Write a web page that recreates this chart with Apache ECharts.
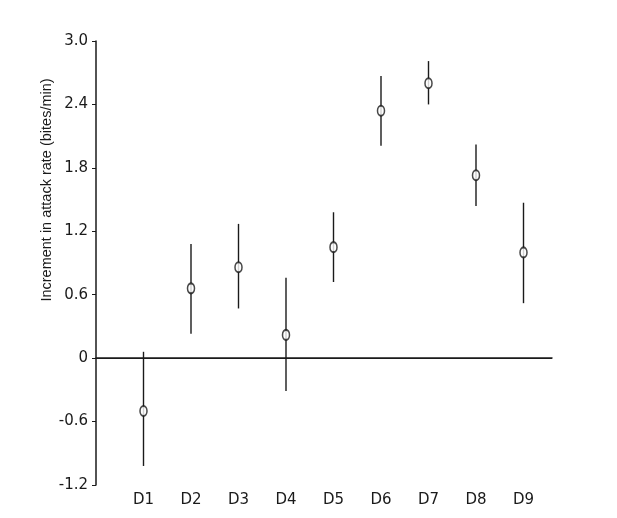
<!DOCTYPE html>
<html>
<head>
<meta charset="utf-8">
<script src="https://cdn.jsdelivr.net/npm/echarts@6/dist/echarts.min.js"></script>
<style>html,body{margin:0;padding:0;background:#fff}#c{width:617px;height:518px}</style>
</head>
<body>
<div id="c"></div>
<script>
var categories = ['D1','D2','D3','D4','D5','D6','D7','D8','D9'];
var means = [-0.50, 0.66, 0.86, 0.22, 1.05, 2.34, 2.60, 1.73, 1.00];
var upper = [0.06, 1.08, 1.27, 0.76, 1.38, 2.67, 2.81, 2.02, 1.47];
var lower = [-1.02, 0.23, 0.47, -0.31, 0.72, 2.01, 2.40, 1.44, 0.52];
var yTicks = [-1.2, -0.6, 0, 0.6, 1.2, 1.8, 2.4, 3.0];
var yTitle = 'Increment in attack rate (bites/min)';

var font = 'DejaVu Sans';
var ink = '#1a1a1a';

var pointData = means.map(function(v, i){ return [i + 1, v]; });
var barData = means.map(function(v, i){ return [i + 1, lower[i], upper[i]]; });

var chart = echarts.init(document.getElementById('c'), null, {renderer: 'canvas'});
chart.setOption({
  animation: false,
  backgroundColor: '#fff',
  grid: {left: 96, top: 41, right: 65, bottom: 33, containLabel: false},
  xAxis: {
    type: 'value', min: 0, max: 9.6, interval: 1,
    axisLine: {show: true, lineStyle: {color: ink, width: 1.5}},
    axisTick: {show: false},
    splitLine: {show: false},
    axisLabel: {
      color: ink, fontFamily: font, fontSize: 15, margin: 8,
      showMaxLabel: false,
      formatter: function(v){ return (v >= 1 && v <= categories.length && v === Math.round(v)) ? categories[v - 1] : ''; }
    }
  },
  yAxis: {
    type: 'value', min: yTicks[0], max: yTicks[yTicks.length - 1], interval: 0.6,
    axisLine: {show: true, onZero: false, lineStyle: {color: ink, width: 1.5}},
    axisTick: {show: true, length: 4, lineStyle: {color: ink}},
    splitLine: {show: false},
    axisLabel: {
      color: ink, fontFamily: font, fontSize: 15, margin: 8,
      formatter: function(v){
        var r = Math.round(v * 10) / 10;
        if (r === 0) return '0';
        if (r === 3) return '3.0';
        return String(r);
      }
    }
  },
  graphic: [{
    type: 'text',
    x: 47, y: 190,
    rotation: Math.PI / 2,
    style: {text: yTitle, fill: ink, font: '14.5px "Liberation Sans"', align: 'center', verticalAlign: 'middle'}
  }],
  series: [
    {
      type: 'custom',
      data: barData,
      renderItem: function(params, api){
        var x = api.value(0);
        var p1 = api.coord([x, api.value(1)]);
        var p2 = api.coord([x, api.value(2)]);
        return {
          type: 'line',
          shape: {x1: p1[0], y1: p1[1], x2: p2[0], y2: p2[1]},
          style: {stroke: ink, lineWidth: 1.4}
        };
      },
      z: 2
    },
    {
      type: 'scatter',
      data: pointData,
      symbol: 'circle',
      symbolSize: [7, 10],
      itemStyle: {color: '#fff', borderColor: ink, borderWidth: 1.8},
      z: 3,
      markLine: {
        silent: true, symbol: 'none', label: {show: false},
        lineStyle: {color: ink, width: 1.2, type: 'solid'},
        data: [{yAxis: 0}]
      }
    }
  ]
});
</script>
</body>
</html>
